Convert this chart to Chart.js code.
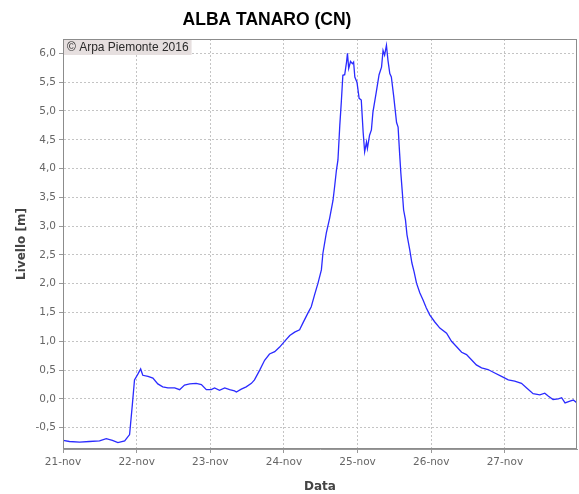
<!DOCTYPE html>
<html lang="it">
<head>
<meta charset="utf-8">
<title>ALBA TANARO (CN)</title>
<script src="https://cdn.jsdelivr.net/npm/chart.js@4.4.0/dist/chart.umd.min.js"></script>
<style>
  html, body { margin: 0; background: #fff; }
  #wrap { width: 579px; height: 494px; position: relative; }
</style>
</head>
<body>
<div id="wrap"><canvas id="livello"></canvas></div>
<script>
// ore trascorse dal 21-nov 00:00
const ore = [
  0, 2.1, 5.4, 8.6, 11.9, 14.1, 16.1, 17.9, 20.1, 21.7, 22.6, 23.3, 24.4, 25.3, 26.0,
  27.7, 29.3, 30.9, 32.5, 34.2, 36.4, 38.0, 39.6, 41.3, 43.4, 45.1, 46.7, 48.3, 49.4,
  51.0, 52.7, 54.3, 55.9, 56.5, 58.1, 59.7, 61.4, 62.4, 64.1, 65.7, 67.3, 69.0, 70.6,
  72.2, 73.9, 75.5, 77.1, 78.2, 79.8, 80.9, 82.0, 83.1, 84.2, 84.7, 85.8, 86.9, 88.0,
  88.5, 89.1, 89.6, 90.2, 90.7, 91.2, 91.8, 92.4, 92.7, 93.1, 93.7, 94.3, 94.7, 95.1,
  95.8, 96.5, 97.2, 97.8, 98.3, 98.9, 99.2, 99.9, 100.5, 101.0, 102.1, 103.0, 103.8,
  104.3, 104.8, 105.4, 105.9, 106.5, 107.0, 107.8, 108.7, 109.2, 109.7, 110.1, 110.6,
  111.0, 111.6, 112.1, 113.0, 113.7, 114.4, 115.2, 116.3, 117.3, 118.4, 119.5, 121.1,
  122.8, 125.0, 126.6, 128.2, 129.9, 131.5, 133.1, 134.7, 136.4, 138.5, 140.7, 142.9,
  145.1, 147.2, 149.4, 151.1, 153.2, 155.4, 157.0, 158.1, 159.7, 161.4, 162.5, 163.6,
  165.2, 166.3, 167.5
];
// livello idrometrico [m]
const livello = [
  -0.72, -0.74, -0.75, -0.74, -0.73, -0.69, -0.72, -0.76, -0.73, -0.62, -0.10, 0.33, 0.43, 0.52, 0.41,
  0.39, 0.36, 0.26, 0.21, 0.19, 0.19, 0.16, 0.24, 0.26, 0.27, 0.25, 0.16, 0.16, 0.19,
  0.15, 0.19, 0.16, 0.14, 0.12, 0.17, 0.21, 0.27, 0.33, 0.50, 0.67, 0.78, 0.82, 0.90,
  1.00, 1.10, 1.16, 1.20, 1.32, 1.49, 1.60, 1.81, 2.01, 2.24, 2.53, 2.88, 3.14, 3.45,
  3.68, 3.97, 4.15, 4.75, 5.16, 5.62, 5.63, 5.85, 6.00, 5.74, 5.86, 5.82, 5.85, 5.59,
  5.50, 5.22, 5.19, 4.64, 4.29, 4.46, 4.35, 4.58, 4.67, 4.98, 5.33, 5.63, 5.76,
  6.05, 5.97, 6.14, 5.88, 5.65, 5.59, 5.24, 4.80, 4.72, 4.26, 3.92, 3.57,
  3.28, 3.11, 2.85, 2.59, 2.36, 2.21, 2.01, 1.84, 1.72, 1.58, 1.46, 1.34,
  1.23, 1.14, 1.00, 0.91, 0.81, 0.77, 0.68, 0.59, 0.54, 0.51, 0.45, 0.39,
  0.33, 0.31, 0.27, 0.19, 0.09, 0.07, 0.10, 0.05, -0.01, 0.00, 0.02, -0.07,
  -0.04, -0.02, -0.07
];
const giorni = ['21-nov', '22-nov', '23-nov', '24-nov', '25-nov', '26-nov', '27-nov'];
const tickLivello = [-0.5, 0, 0.5, 1, 1.5, 2, 2.5, 3, 3.5, 4, 4.5, 5, 5.5, 6];
const oraFine = 167.5;
const livMin = -0.87;
const livMax = 6.25;

const testo = '#666';
const griglia = '#c4c4c4';

// titolo spostato come nel grafico originale
const titolo = {
  id: 'titolo',
  afterDraw(chart) {
    const c = chart.ctx;
    c.save();
    c.font = 'bold 17.5px "Liberation Sans", Arial, sans-serif';
    c.fillStyle = '#000';
    c.textAlign = 'center';
    c.textBaseline = 'middle';
    c.fillText('ALBA TANARO (CN)', 267, 20);
    c.restore();
  }
};

// cornice dell'area dati e marchio
const cornice = {
  id: 'cornice',
  afterDraw(chart) {
    const { ctx: c, chartArea: a } = chart;
    c.save();
    c.strokeStyle = '#8c8c8c';
    c.lineWidth = 1;
    c.strokeRect(a.left + 0.5, a.top + 0.5, a.right - a.left - 1, a.bottom - a.top - 1);
    c.font = '12px "Liberation Sans", Arial, sans-serif';
    const msg = '\u00A9 Arpa Piemonte 2016';
    const w = c.measureText(msg).width;
    c.fillStyle = '#e6dfdf';
    c.fillRect(a.left + 1, a.top + 1, w + 6, 15);
    c.fillStyle = '#2a2a2a';
    c.textBaseline = 'middle';
    c.fillText(msg, a.left + 4, a.top + 9);
    c.restore();
  }
};

new Chart(document.getElementById('livello'), {
  type: 'line',
  data: {
    labels: ore,
    datasets: [{
      data: ore.map((h, i) => ({ x: h, y: livello[i] })),
      borderColor: '#2b2bff',
      borderWidth: 1.3,
      pointRadius: 0,
      tension: 0,
      fill: false
    }]
  },
  options: {
    responsive: true,
    maintainAspectRatio: false,
    animation: false,
    layout: { padding: { top: 39, right: 2, left: 0, bottom: 0 } },
    plugins: {
      legend: { display: false },
      tooltip: { enabled: false }
    },
    scales: {
      x: {
        type: 'linear',
        min: 0,
        max: oraFine,
        afterFit: s => { s.height = 45; },
        afterBuildTicks: s => { s.ticks = giorni.map((g, i) => ({ value: i * 24 })); },
        ticks: {
          color: testo,
          font: { family: '"DejaVu Sans", sans-serif', size: 10.5 },
          padding: 3,
          maxRotation: 0,
          callback: (v, i) => giorni[i]
        },
        grid: { color: griglia, tickColor: '#999', tickLength: 4 },
        border: { color: '#999', dash: [2, 2] },
        title: {
          display: true,
          text: 'Data',
          color: '#444',
          font: { family: '"DejaVu Sans", sans-serif', size: 12, weight: 'bold' },
          padding: { top: 0, bottom: 0 }
        }
      },
      y: {
        min: livMin,
        max: livMax,
        afterFit: s => { s.width = 63; },
        afterBuildTicks: s => { s.ticks = tickLivello.map(v => ({ value: v })); },
        ticks: {
          color: testo,
          font: { family: '"DejaVu Sans", sans-serif', size: 10.5 },
          padding: 3,
          callback: v => v.toFixed(1).replace('.', ',')
        },
        grid: { color: griglia, tickColor: '#999', tickLength: 4 },
        border: { color: '#999', dash: [2, 2] },
        title: {
          display: true,
          text: 'Livello [m]',
          color: '#444',
          font: { family: '"DejaVu Sans", sans-serif', size: 12, weight: 'bold' },
          padding: { top: 15, bottom: 2 }
        }
      }
    }
  },
  plugins: [titolo, cornice]
});
</script>
</body>
</html>
